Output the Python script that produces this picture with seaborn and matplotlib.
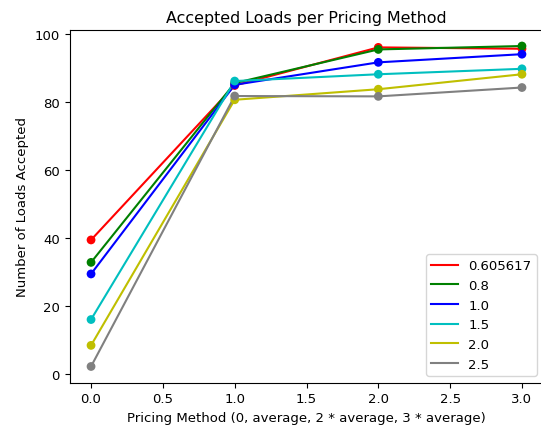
import matplotlib
matplotlib.use("Agg")
import matplotlib.pyplot as plt
import seaborn as sns
import pandas as pd

# Pricing methods: 0, average, 2*average, 3*average
methods = [0.0, 1.0, 2.0, 3.0]
factors = ["0.605617", "0.8", "1.0", "1.5", "2.0", "2.5"]
colors = ["r", "g", "b", "c", "y", "gray"]

accepted_0605617 = [39.4, 84.8, 96.0, 95.6]
accepted_08 = [32.8, 85.5, 95.4, 96.4]
accepted_10 = [29.4, 85.0, 91.6, 94.0]
accepted_15 = [16.0, 86.1, 88.1, 89.7]
accepted_20 = [8.4, 80.6, 83.7, 88.1]
accepted_25 = [2.2, 81.7, 81.6, 84.2]

series = [accepted_0605617, accepted_08, accepted_10,
          accepted_15, accepted_20, accepted_25]

rows = []
for f, vals in zip(factors, series):
    for m, v in zip(methods, vals):
        rows.append({"method": m, "accepted": v, "factor": f})
df = pd.DataFrame(rows)

palette = dict(zip(factors, colors))

plt.rcParams["font.size"] = 9.55
plt.rcParams["axes.titlesize"] = 11.45

fig = plt.figure(figsize=(5.41, 4.31), dpi=100)
ax = fig.add_axes([69.5 / 541, 47.5 / 431, 474 / 541, 352.5 / 431])

sns.lineplot(data=df, x="method", y="accepted", hue="factor",
             hue_order=factors, palette=palette, ax=ax, linewidth=1.5)
sns.scatterplot(data=df, x="method", y="accepted", hue="factor",
                hue_order=factors, palette=palette, ax=ax, s=40,
                edgecolor="none", legend=False, zorder=3)

ax.set_xlim(-0.15, 3.15)
ax.spines["right"].set_visible(False)
ax.set_title("Accepted Loads per Pricing Method")
ax.set_xlabel("Pricing Method (0, average, 2 * average, 3 * average)")
ax.set_ylabel("Number of Loads Accepted")
ax.legend(loc="lower right", title=None)

fig.savefig("out.png", dpi=100)
